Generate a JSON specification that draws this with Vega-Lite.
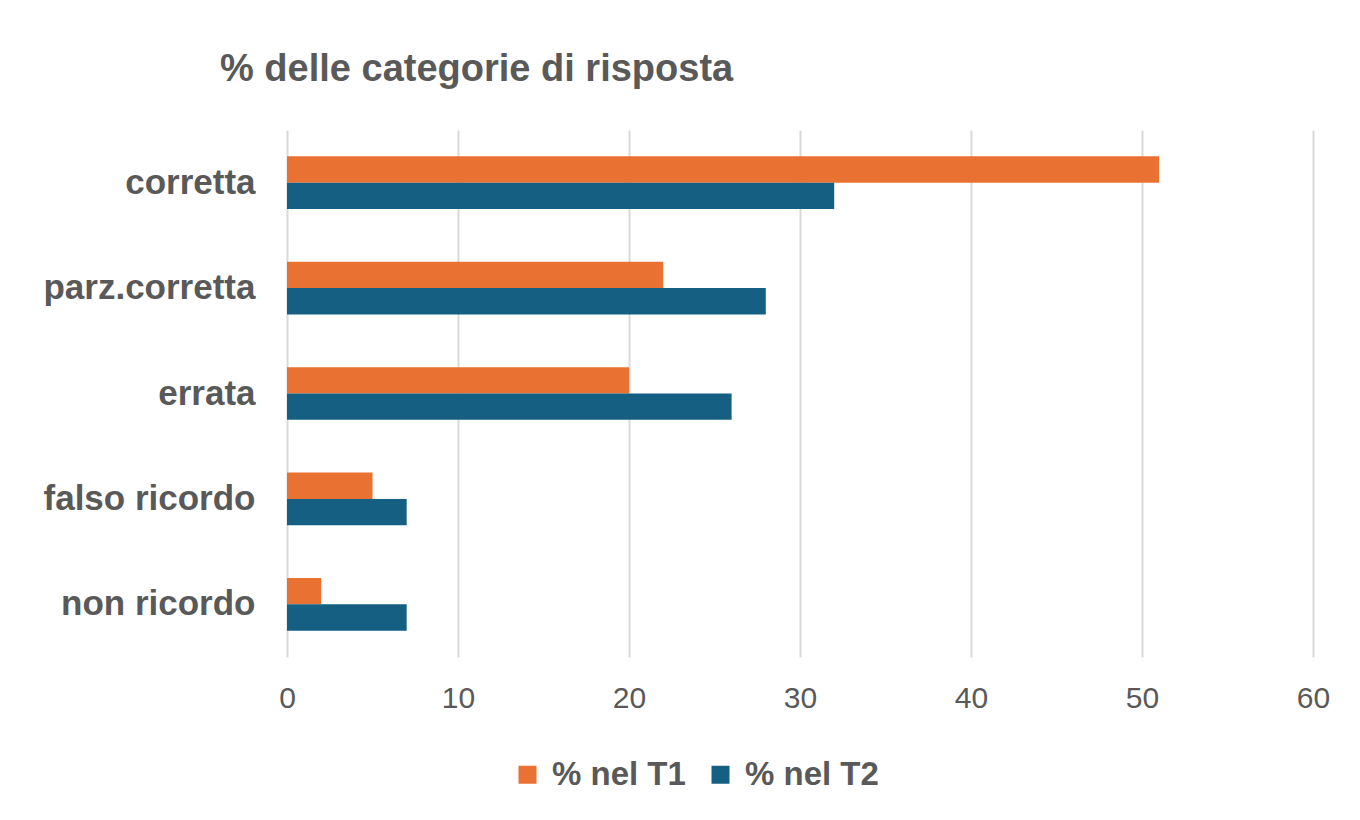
{
  "$schema": "https://vega.github.io/schema/vega-lite/v6.json",
  "autosize": {"type": "none"},
  "width": 1026,
  "height": 527,
  "padding": {"left": 287, "top": 130, "right": 47, "bottom": 163},
  "background": "white",
  "config": {
    "view": {"stroke": null},
    "font": "Liberation Sans"
  },
  "title": {
    "text": "% delle categorie di risposta",
    "anchor": "start",
    "frame": "group",
    "dx": -67,
    "offset": 11,
    "baseline": "alphabetic",
    "fontSize": 38,
    "fontWeight": "bold",
    "color": "#595959",
    "font": "Liberation Sans"
  },
  "data": {
    "values": [
      {"categoria": "corretta", "serie": "% nel T1", "valore": 51},
      {"categoria": "corretta", "serie": "% nel T2", "valore": 32},
      {"categoria": "parz.corretta", "serie": "% nel T1", "valore": 22},
      {"categoria": "parz.corretta", "serie": "% nel T2", "valore": 28},
      {"categoria": "errata", "serie": "% nel T1", "valore": 20},
      {"categoria": "errata", "serie": "% nel T2", "valore": 26},
      {"categoria": "falso ricordo", "serie": "% nel T1", "valore": 5},
      {"categoria": "falso ricordo", "serie": "% nel T2", "valore": 7},
      {"categoria": "non ricordo", "serie": "% nel T1", "valore": 2},
      {"categoria": "non ricordo", "serie": "% nel T2", "valore": 7}
    ]
  },
  "mark": {"type": "bar"},
  "encoding": {
    "y": {
      "field": "categoria",
      "type": "nominal",
      "sort": ["corretta", "parz.corretta", "errata", "falso ricordo", "non ricordo"],
      "scale": {"paddingInner": 0.5, "paddingOuter": 0.25},
      "axis": {
        "title": null,
        "domain": false,
        "ticks": false,
        "grid": false,
        "labelFontSize": 35,
        "labelFontWeight": "bold",
        "labelColor": "#595959",
        "labelPadding": 32,
        "labelLimit": 400,
        "labelFont": "Liberation Sans"
      }
    },
    "yOffset": {
      "field": "serie",
      "type": "nominal",
      "sort": ["% nel T1", "% nel T2"],
      "scale": {"paddingInner": 0, "paddingOuter": 0}
    },
    "x": {
      "field": "valore",
      "type": "quantitative",
      "scale": {"domain": [0, 60]},
      "axis": {
        "title": null,
        "values": [0, 10, 20, 30, 40, 50, 60],
        "domain": false,
        "ticks": false,
        "grid": true,
        "gridColor": "#d9d9d9",
        "gridWidth": 2,
        "labelFontSize": 30,
        "labelColor": "#595959",
        "labelPadding": 26,
        "labelFlush": false,
        "labelFont": "Liberation Sans"
      }
    },
    "color": {
      "field": "serie",
      "type": "nominal",
      "scale": {"domain": ["% nel T1", "% nel T2"], "range": ["#E97132", "#156082"]},
      "legend": {
        "title": null,
        "orient": "none",
        "direction": "horizontal",
        "legendX": 224,
        "legendY": 628,
        "symbolType": "square",
        "symbolSize": 324,
        "symbolStrokeWidth": 0,
        "labelFontSize": 33,
        "labelFontWeight": "bold",
        "labelColor": "#595959",
        "labelOffset": 8,
        "columnPadding": 18,
        "labelFont": "Liberation Sans"
      }
    }
  }
}
